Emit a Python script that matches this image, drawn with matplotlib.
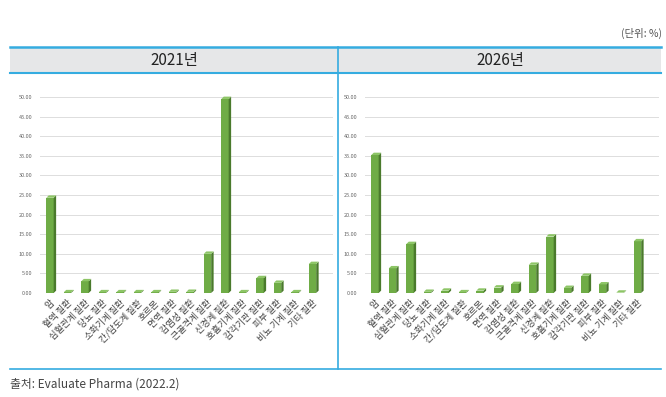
import matplotlib.pyplot as plt
from matplotlib.patches import Rectangle, Polygon
from matplotlib.lines import Line2D

plt.rcParams['font.family'] = ['Noto Sans CJK KR', 'DejaVu Sans']

# data (share by disease area, %)
categories = ['암', '혈액 질환', '심혈관계 질환', '당뇨 질환', '소화기계 질환', '간/담도계 질환',
              '호르몬', '면역 질환', '감염성 질환', '근골격계 질환', '신경계 질환', '호흡기계 질환',
              '감각기관 질환', '피부 질환', '비뇨 기계 질환', '기타 질환']
share_2021 = [24.3, 0.2, 3.0, 0.2, 0.2, 0.2, 0.2, 0.3, 0.3, 10.0, 49.5, 0.2, 3.8, 2.6, 0.2, 7.4]
share_2026 = [35.2, 6.3, 12.5, 0.3, 0.6, 0.2, 0.6, 1.4, 2.3, 7.2, 14.4, 1.3, 4.4, 2.2, 0.1, 13.2]
panel_titles = ['2021년', '2026년']
yticks = [0, 5, 10, 15, 20, 25, 30, 35, 40, 45, 50]

W, H = 666, 397
BLUE = '#35ACE0'
FRONT = '#6FAC46'
SIDE = '#4A7A2C'
TOP = '#8DC566'


def fx(px):
    return px / W


def fy(py):
    return 1 - py / H


def draw_3d_bars(ax, values):
    w = 0.42
    dx, dy = 0.14, 0.6
    for i, v in enumerate(values):
        ax.bar(i, v, width=w, color=FRONT, zorder=3)
        r = i + w / 2
        l = i - w / 2
        ax.add_patch(Polygon([(r, 0), (r + dx, dy), (r + dx, v + dy), (r, v)],
                             closed=True, facecolor=SIDE, edgecolor='none', zorder=3))
        ax.add_patch(Polygon([(l, v), (l + dx, v + dy), (r + dx, v + dy), (r, v)],
                             closed=True, facecolor=TOP, edgecolor='none', zorder=3))


fig = plt.figure(figsize=(6.66, 3.97), dpi=100)

# header band and frame lines
fig.patches.append(Rectangle((fx(10), fy(73)), fx(651), 26 / H, transform=fig.transFigure,
                             facecolor='#E6E7E8', edgecolor='none', zorder=0))
for y_px, lw in [(47, 1.8), (73, 1.5), (369, 1.2)]:
    fig.lines.append(Line2D([fx(10), fx(661)], [fy(y_px), fy(y_px)], transform=fig.transFigure,
                            color=BLUE, lw=lw))
fig.lines.append(Line2D([fx(338), fx(338)], [fy(47), fy(369)], transform=fig.transFigure,
                        color=BLUE, lw=1.2))

fig.text(fx(174), fy(61), panel_titles[0], ha='center', va='center', fontsize=11, color='#222222')
fig.text(fx(500), fy(61), panel_titles[1], ha='center', va='center', fontsize=11, color='#222222')
fig.text(fx(662), fy(33), '(단위: %)', ha='right', va='center', fontsize=7.5, color='#555555')
fig.text(fx(10), fy(384), '출처: Evaluate Pharma (2022.2)', ha='left', va='center', fontsize=8.5,
         color='#444444')

# axes: 0 at y=293px, ~3.92px per unit, slot width ~17.5px
ymax = 52
ax_h = ymax * 3.92
lefts = [50 - 0.55 * 17.5, 375 - 0.55 * 17.5]
ax_w = 16.75 * 17.5
for left, vals in zip(lefts, [share_2021, share_2026]):
    ax = fig.add_axes([fx(left), fy(293), fx(ax_w), ax_h / H])
    draw_3d_bars(ax, vals)
    ax.set_xlim(-0.55, 16.2)
    ax.set_ylim(0, ymax)
    ax.set_yticks(yticks)
    ax.set_yticklabels([f'{t:.2f}' for t in yticks], fontsize=4, color='#666666')
    ax.set_xticks(range(len(categories)))
    ax.set_xticklabels(categories, rotation=45, ha='right', rotation_mode='anchor',
                       fontsize=6.6, color='#444444')
    ax.tick_params(length=0, axis='y', pad=6)
    ax.tick_params(length=0, axis='x', pad=4)
    ax.grid(axis='y', color='#DDDDDD', lw=0.7, zorder=0)
    for s in ax.spines.values():
        s.set_visible(False)
    ax.set_facecolor('none')

fig.savefig('out.png', dpi=100)
